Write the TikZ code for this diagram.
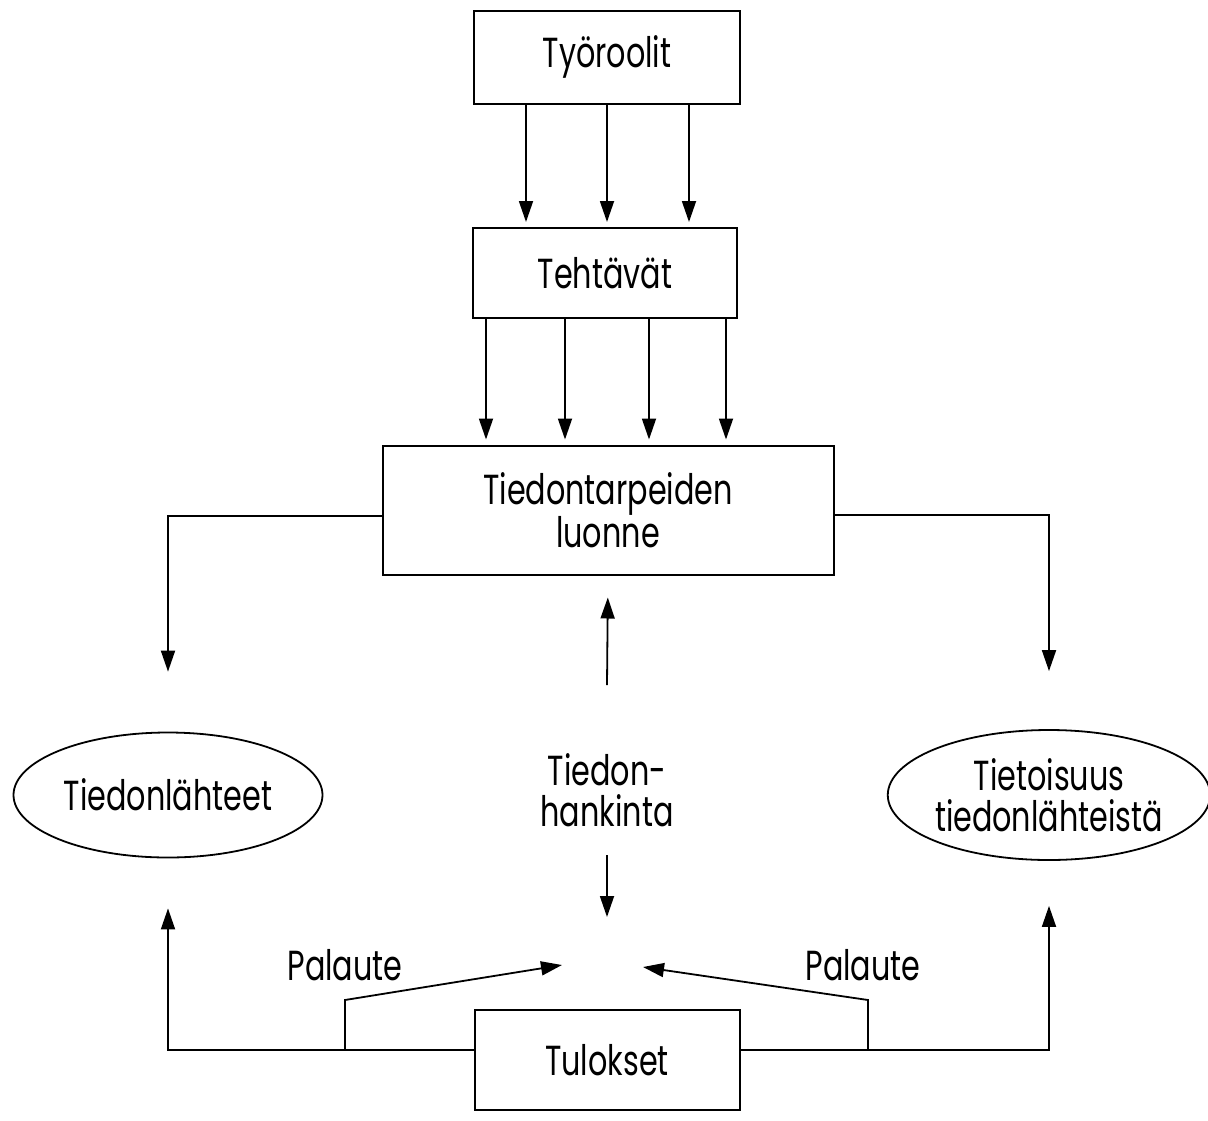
\documentclass[tikz,border=0pt]{standalone}
\usepackage{fontspec}
\setmainfont[FakeStretch=0.72]{Poppins}
\usetikzlibrary{arrows.meta,shapes.geometric}
\begin{document}
\begin{tikzpicture}[x=1pt,y=-1pt,
  every node/.style={font=\fontsize{42}{41}\selectfont, align=center, inner sep=0pt},
  box/.style={draw, line width=2pt, rectangle},
  ell/.style={draw, line width=1.8pt, ellipse},
  conn/.style={line width=1.8pt},
  arr/.style={conn, -{Triangle[length=21pt,width=14pt]}}]
\useasboundingbox (0,0) rectangle (1208,1120);
\node[box, minimum width=266, minimum height=93] (tyo) at (607,57) {Työroolit};
\node[box, minimum width=264, minimum height=90] (teh) at (605,273) {Tehtävät};
\node[box, minimum width=451, minimum height=129] (tie) at (608,510) {Tiedontarpeiden\\luonne};
\node[ell, minimum width=309, minimum height=125] (lah) at (168,795) {Tiedonlähteet};
\node[ell, minimum width=303, minimum height=130] (tiet) at (1049,795) {Tietoisuus\\tiedonlähteistä};
\node (hank) at (607,790) {Tiedon-\\hankinta};
\node[box, minimum width=265, minimum height=100] (tul) at (607,1060) {Tulokset};
\node (palL) at (345,965) {Palaute};
\node (palR) at (863,965) {Palaute};
% Työroolit -> Tehtävät
\foreach \x in {526,607,689}
  \draw[arr, shorten >=5pt] (tyo.south -| \x,0) -- (teh.north -| \x,0);
% Tehtävät -> Tiedontarpeiden
\foreach \x in {486,565,649,726}
  \draw[arr, shorten >=5pt] (teh.south -| \x,0) -- (tie.north -| \x,0);
% sides
\draw[arr, shorten >=60pt] (tie.west |- 0,516) -| (lah.north);
\draw[arr, shorten >=58pt] (tie.east |- 0,515) -| (tiet.north);
% centre
\coordinate (hn) at (607,685);
\coordinate (hs) at (607,855);
\coordinate (meet) at (607,917);
\draw[arr, shorten >=22pt] (hn) -- (tie.south);
\draw[arr] (hs) -- (meet);
% bottom
\draw[arr, shorten >=50pt] (tul.west |- 0,1050) -| (lah.south);
\draw[arr, shorten >=45pt] (tul.east |- 0,1050) -| (tiet.south);
\coordinate (fl0) at (345,1050);
\coordinate (fl1) at (345,1000);
\coordinate (flt) at (562,965);
\coordinate (fr0) at (868,1050);
\coordinate (fr1) at (868,1000);
\coordinate (frt) at (643,967);
\draw[arr] (fl0) -- (fl1) -- (flt);
\draw[arr] (fr0) -- (fr1) -- (frt);
\end{tikzpicture}
\end{document}
